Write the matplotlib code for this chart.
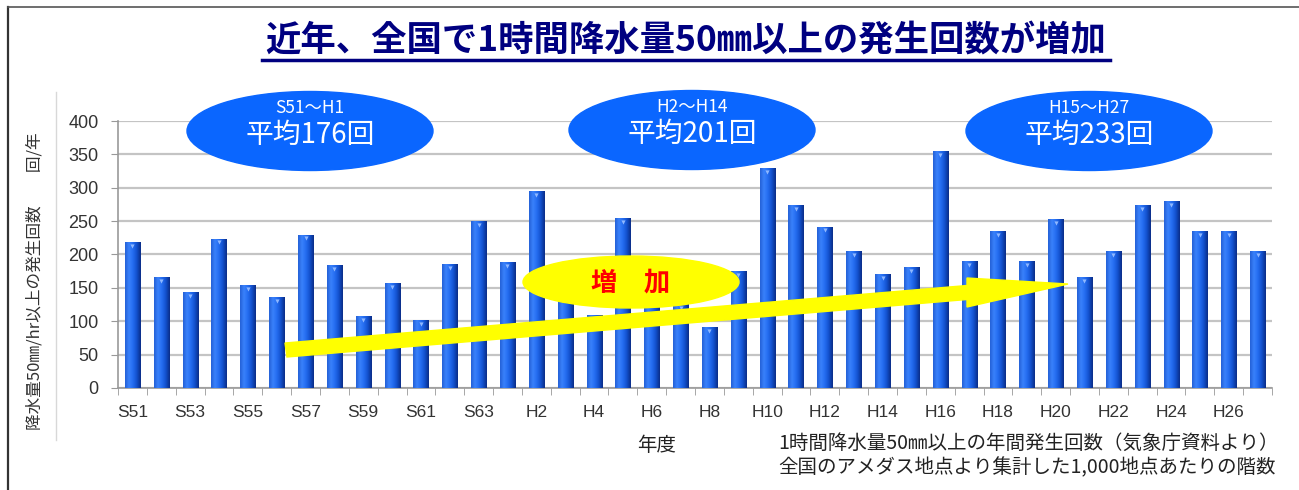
import numpy as np
import matplotlib.pyplot as plt
from matplotlib.patches import Ellipse, Polygon
from matplotlib.lines import Line2D
from matplotlib.colors import LinearSegmentedColormap

# 年度 (S51 - H27)
years = ["S51", "S52", "S53", "S54", "S55", "S56", "S57", "S58", "S59", "S60",
         "S61", "S62", "S63", "H1", "H2", "H3", "H4", "H5", "H6", "H7",
         "H8", "H9", "H10", "H11", "H12", "H13", "H14", "H15", "H16", "H17",
         "H18", "H19", "H20", "H21", "H22", "H23", "H24", "H25", "H26", "H27"]
# 1000地点あたりの発生回数
counts = [218, 166, 143, 223, 154, 136, 229, 183, 107, 156,
          101, 185, 249, 188, 294, 175, 109, 254, 175, 125,
          90, 174, 329, 273, 241, 204, 170, 180, 354, 190,
          234, 190, 252, 165, 204, 273, 279, 234, 234, 204]
periods = ["S51～H1", "H2～H14", "H15～H27"]
period_avgs = [176, 201, 233]

JP = ["Noto Sans CJK JP", "DejaVu Sans"]
LAT = ["Liberation Sans", "DejaVu Sans"]

W, H = 1299, 490
fig = plt.figure(figsize=(W / 100, H / 100), dpi=100)


def fx(px):
    return px / W


def fy(py):
    return 1 - py / H


ax = fig.add_axes([fx(118), fy(388), fx(1272) - fx(118), fy(121) - fy(388)])
x = np.arange(len(years))
bars = ax.bar(x, counts, width=0.52, color="#1f5fe0", zorder=2)

# cylinder-ish shading on each bar
cmap = LinearSegmentedColormap.from_list(
    "bar", ["#2460d6", "#3a82fc", "#246cf0", "#1250cc", "#0a2c86"])
grad = np.linspace(0, 1, 64).reshape(1, -1)
for b in bars:
    x0, w, h = b.get_x(), b.get_width(), b.get_height()
    ax.imshow(grad, extent=[x0, x0 + w, 0, h], aspect="auto", cmap=cmap,
              zorder=3, interpolation="bicubic")
ax.plot(x, np.array(counts) - 5, "v", color="#8fb8ff", ms=3, mec="none", zorder=4)

ax.set_xlim(-0.5, len(years) - 0.5)
ax.set_ylim(0, 400)
ax.set_yticks(range(0, 401, 50))
ax.set_xticks(x[::2])
ax.set_xticklabels(years[::2])
ax.set_xticks(np.arange(-0.5, len(years), 1), minor=True)
ax.tick_params(axis="x", which="major", length=0, pad=12, labelsize=12.5,
               labelcolor="#333333")
ax.tick_params(axis="x", which="minor", length=5, color="#999999")
ax.tick_params(axis="y", length=5, color="#999999", pad=9, labelsize=13,
               labelcolor="#333333")
for lab in ax.get_xticklabels() + ax.get_yticklabels():
    lab.set_family(LAT)
ax.yaxis.grid(True, color="#c4c4c4", lw=1.6)
ax.set_axisbelow(True)
for s in ["top", "right"]:
    ax.spines[s].set_visible(False)
for s in ["left", "bottom"]:
    ax.spines[s].set_color("#999999")
    ax.spines[s].set_linewidth(1.2)

# frame and chart-area edge
fig.add_artist(Line2D([fx(8), fx(8)], [fy(7), fy(490)], color="#333333", lw=1.6,
                      transform=fig.transFigure))
fig.add_artist(Line2D([fx(8), fx(1299)], [fy(7), fy(7)], color="#555555", lw=1.2,
                      transform=fig.transFigure))
fig.add_artist(Line2D([fx(56), fx(56)], [fy(92), fy(440)], color="#d8d8d8", lw=1,
                      transform=fig.transFigure))

# title
fig.text(fx(686), fy(41), "近年、全国で1時間降水量50㎜以上の発生回数が増加",
         ha="center", va="center", fontsize=25.5, color="#000080",
         family=JP, weight="bold")
fig.add_artist(Line2D([fx(262), fx(1110)], [fy(60), fy(60)], color="#000080", lw=2.5,
                      transform=fig.transFigure))

# period averages
centers = [(310, 131), (692, 130), (1089, 131)]
for (cx, cy), per, avg in zip(centers, periods, period_avgs):
    fig.add_artist(Ellipse((fx(cx), fy(cy)), 246 / W, 79 / H, color="#0a66ff",
                           transform=fig.transFigure, zorder=6))
    fig.text(fx(cx), fy(cy - 23), per, ha="center", va="center", fontsize=12.5,
             color="white", family=JP, zorder=7)
    fig.text(fx(cx), fy(cy + 4), f"平均{avg}回", ha="center", va="center",
             fontsize=20, color="white", family=JP, zorder=7)

# trend arrow
arrow_px = [(285, 343), (967, 285.5), (967, 278), (1068, 284), (967, 307),
            (967, 299.5), (287, 357)]
fig.add_artist(Polygon([(fx(a), fy(b)) for a, b in arrow_px], closed=True,
                       color="#ffff00", transform=fig.transFigure, zorder=6))
fig.add_artist(Ellipse((fx(631), fy(282)), 216 / W, 52 / H, color="#ffff00",
                       transform=fig.transFigure, zorder=6))
fig.text(fx(631), fy(283), "増　加", ha="center", va="center", fontsize=19,
         color="#ff0000", family=JP, weight="bold", zorder=7)

# axis texts
fig.text(fx(35), fy(281), "降水量50㎜/hr以上の発生回数　　回/年", rotation=90,
         ha="center", va="center", fontsize=12, color="#333333", family=JP)
fig.text(fx(657), fy(445), "年度", ha="center", va="center", fontsize=14,
         color="#222222", family=JP)
fig.text(fx(778), fy(443), "1時間降水量50㎜以上の年間発生回数（気象庁資料より）",
         ha="left", va="center", fontsize=14, color="#222222", family=JP)
fig.text(fx(778), fy(468), "全国のアメダス地点より集計した1,000地点あたりの階数",
         ha="left", va="center", fontsize=14, color="#222222", family=JP)

fig.savefig("out.png", dpi=100)
